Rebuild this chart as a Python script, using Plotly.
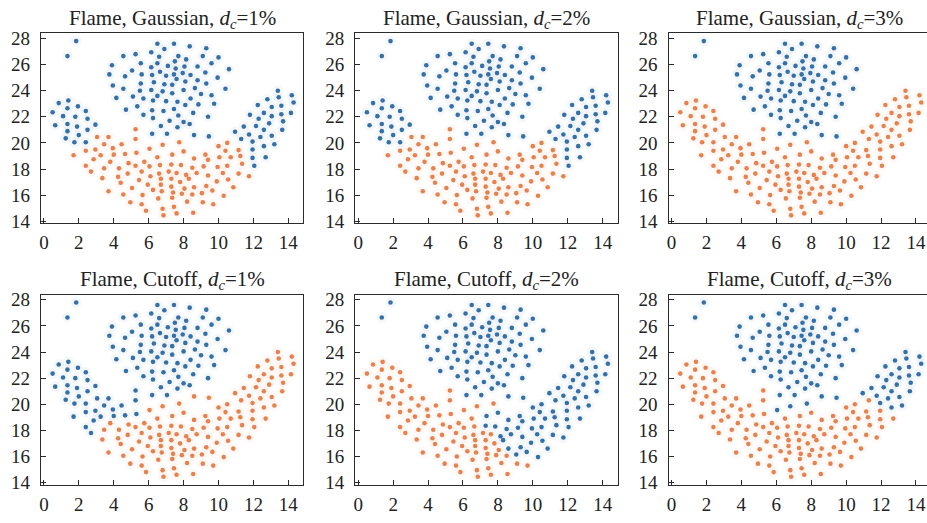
import plotly.graph_objects as go

# ---------------- data (Flame dataset) ----------------
outlier_x = [1.85, 1.35]
outlier_y = [27.8, 26.65]

head_x = [6.5, 7.45, 8.35, 9.3, 6.9, 6.15, 5.25, 4.55, 6.6, 7.7, 9.1, 10.0, 8.15, 7.5, 6.5, 5.55, 9.6,
          3.9, 7.1, 6.15, 8.05, 8.8, 10.6, 7.55, 5.05, 6.65, 9.25, 3.75, 5.6, 7.45, 7.95, 8.4, 6.2,
          7.0, 4.65, 9.95, 7.6, 6.3, 8.1, 8.8, 5.55, 6.9, 7.35, 9.3, 3.95, 4.55, 8.65, 10.4, 5.5,
          6.15, 6.8, 8.0, 7.35, 9.0, 9.6, 6.5, 4.15, 5.1, 5.7, 8.4, 6.25, 7.0, 7.65, 9.75, 8.1,
          8.85, 5.35, 7.45, 4.7, 6.2, 6.85, 8.55, 5.7, 7.7, 9.4, 6.25, 7.2, 8.0, 8.35, 6.7, 7.65,
          6.2, 7.05, 8.6, 9.45]
head_y = [27.6, 27.6, 27.4, 27.25, 27.2, 26.95, 26.8, 26.65, 26.6, 26.65, 26.65, 26.55, 26.4, 26.25,
          26.1, 26.1, 26.1, 25.95, 25.9, 25.8, 25.85, 25.85, 25.65, 25.7, 25.55, 25.45, 25.4, 25.25,
          25.25, 25.25, 25.35, 25.2, 25.2, 25.15, 25.1, 25.0, 24.9, 24.65, 24.7, 24.8, 24.55, 24.5,
          24.45, 24.55, 24.4, 24.15, 24.2, 24.15, 24.0, 24.05, 23.95, 24.05, 23.8, 23.75, 23.65, 23.6,
          23.45, 23.55, 23.4, 23.4, 23.25, 23.2, 23.15, 23.0, 22.9, 22.95, 22.8, 22.6, 22.55, 22.5,
          22.45, 22.3, 22.15, 22.1, 22.0, 21.9, 21.7, 21.6, 21.45, 21.3, 21.2, 20.7, 20.7, 20.6, 20.5]

left_x = [1.4, 0.85, 0.5, 0.65, 1.1, 1.35, 1.95, 2.4, 1.8, 2.5, 2.95, 1.9, 1.35, 1.35, 1.25, 1.75,
          2.0, 2.5, 2.4]
left_y = [23.25, 23.05, 22.35, 21.35, 22.05, 22.65, 22.8, 22.45, 22.0, 21.85, 21.4, 21.25, 21.45,
          20.9, 20.35, 20.05, 20.6, 21.0, 20.05]

lower_x = [1.7, 3.05, 3.7, 3.45, 2.95, 2.4, 2.4, 2.85, 3.25, 3.95, 2.7, 3.45, 3.8, 4.0, 4.45, 4.65,
           4.85, 4.3, 3.35, 3.7, 4.4, 4.25, 4.8, 5.25, 5.75, 5.3, 6.05, 6.5, 6.05, 5.6, 5.45, 5.05,
           4.55, 4.95, 5.85, 5.6, 5.65, 5.95, 6.25, 6.1, 6.6, 6.65, 7.3, 7.85, 7.15, 7.6, 6.7, 7.3,
           6.7, 7.3, 6.75, 7.4, 6.55, 7.35, 6.8, 7.45, 6.85, 7.6, 8.55, 8.2, 7.9, 8.05, 7.8, 8.3,
           8.6, 8.5, 9.1, 9.05, 9.3, 9.65, 9.7,
           5.25, 5.25, 6.8, 7.75, 7.35, 8.0, 8.6, 9.25, 9.4, 8.5, 9.15, 8.15, 8.75, 9.4,
           10.5, 10.0, 10.4, 11.15, 10.05, 10.7, 11.25, 9.95, 10.5, 11.35, 10.25, 11.15, 11.75,
           9.9, 10.55, 10.85, 10.3]
lower_y = [19.05, 20.45, 20.45, 19.9, 19.5, 19.4, 18.25, 18.75, 19.05, 19.6, 17.8, 18.05, 18.55,
           19.1, 19.9, 19.15, 18.45, 18.05, 17.3, 16.3, 16.95, 17.4, 17.65, 18.25, 18.55, 19.25,
           19.55, 18.9, 18.2, 17.8, 17.15, 16.55, 16.05, 15.45, 14.8, 15.3, 16.0, 16.8, 16.4, 17.45,
           17.65, 18.3, 18.35, 18.3, 17.8, 17.7, 17.25, 17.25, 16.8, 16.65, 16.3, 16.2, 15.75, 15.8,
           14.95, 15.1, 14.45, 14.6, 14.65, 15.5, 16.1, 16.5, 17.0, 17.25, 16.6, 16.05, 15.45, 16.15,
           16.7, 16.35, 15.3,
           21.05, 20.3, 19.85, 20.05, 19.1, 19.35, 18.8, 19.1, 18.7, 18.1, 18.2, 17.55, 17.7, 17.5,
           20.0, 19.75, 19.4, 19.45, 18.9, 18.9, 19.0, 18.15, 18.25, 18.4, 17.7, 17.65, 17.45,
           17.05, 17.2, 16.6, 15.95]

right_x = [13.4, 14.2, 14.3, 13.45, 12.8, 12.25, 13.6, 13.05, 12.6, 13.6, 14.15, 11.8, 12.3, 13.05,
           13.7, 12.9, 11.45, 12.15, 12.6, 13.65, 10.95, 11.75, 13.05, 11.3, 12.4, 11.95, 13.2,
           12.6, 11.95, 11.95, 12.7, 12.05]
right_y = [24.0, 23.65, 23.1, 23.5, 23.35, 22.9, 22.85, 22.75, 22.3, 22.2, 22.3, 22.15, 21.85, 22.05,
           21.65, 21.5, 21.25, 21.3, 21.0, 21.0, 20.85, 20.65, 20.55, 20.3, 20.45, 20.1, 19.9, 19.75,
           19.5, 18.85, 18.9, 18.25]

panel_kernels = ["Gaussian", "Gaussian", "Gaussian", "Cutoff", "Cutoff", "Cutoff"]
panel_dc = ["1%", "2%", "3%", "1%", "2%", "3%"]

# cluster labels per panel as (label, run length) over the point order
# outliers(2) + head(85) + left arm(19) + lower(102) + right arm(32); 1 = blue, 0 = orange
label_runs = [
    [(1, 106), (0, 102), (1, 32)],
    [(1, 106), (0, 102), (1, 32)],
    [(1, 87), (0, 153)],
    [(1, 85), (0, 2), (1, 19),
     (1, 11), (0, 2), (1, 3), (0, 9), (1, 1), (0, 45), (1, 2), (0, 29),
     (0, 32)],
    [(1, 87), (0, 19),
     (0, 42), (1, 2), (0, 19), (1, 2), (0, 2), (1, 3), (0, 1), (0, 4), (1, 27),
     (1, 32)],
    [(1, 87), (0, 19),
     (0, 26), (1, 1), (0, 46), (1, 2), (0, 27),
     (1, 23), (0, 1), (1, 4), (0, 4)],
]

x_ticks = [0, 2, 4, 6, 8, 10, 12, 14]
y_ticks = [14, 16, 18, 20, 22, 24, 26, 28]

# ---------------- figure ----------------
X = outlier_x + head_x + left_x + lower_x + right_x
Y = outlier_y + head_y + left_y + lower_y + right_y

BLUE = "#3570a8"
ORANGE = "#e7824f"
W, H = 927, 523
col_px = [(39, 302), (354, 617), (668, 931)]
row_px = [(29, 224), (297, 492)]
x_lo, x_hi = -0.17, 14.86
y_lo, y_hi = 13.83, 28.4
FONT = "Liberation Serif, Times New Roman, serif"

fig = go.Figure()
layout = dict(width=W, height=H, margin=dict(l=0, r=0, t=0, b=0),
              paper_bgcolor="white", plot_bgcolor="white", showlegend=False,
              annotations=[])

for i in range(6):
    r, c = divmod(i, 3)
    labs = []
    for lab, n in label_runs[i]:
        labs += [lab] * n
    n = i + 1
    xa = "x" if n == 1 else f"x{n}"
    ya = "y" if n == 1 else f"y{n}"
    bx = [X[k] for k in range(len(X)) if labs[k] == 1]
    by = [Y[k] for k in range(len(X)) if labs[k] == 1]
    ox = [X[k] for k in range(len(X)) if labs[k] == 0]
    oy = [Y[k] for k in range(len(X)) if labs[k] == 0]
    for px, py, col in ((bx, by, BLUE), (ox, oy, ORANGE)):
        fig.add_trace(go.Scatter(x=px, y=py, mode="markers", xaxis=xa, yaxis=ya,
                                 marker=dict(size=11, color=col, opacity=0.05, line=dict(width=0)),
                                 hoverinfo="skip"))
    for px, py, col in ((bx, by, BLUE), (ox, oy, ORANGE)):
        fig.add_trace(go.Scatter(x=px, y=py, mode="markers", xaxis=xa, yaxis=ya,
                                 marker=dict(size=4.6, color=col, line=dict(width=0))))

    x0, x1 = col_px[c]
    y0, y1 = row_px[r]
    clipped = x1 > W
    px_per_unit = (x1 - x0) / (x_hi - x_lo)
    xr_hi = x_lo + (min(x1, W) - x0) / px_per_unit
    dom_x = [x0 / W, min(x1, W) / W]
    dom_y = [1 - y1 / H, 1 - y0 / H]
    axis_common = dict(showgrid=False, zeroline=False, showline=True, linecolor="#2b2b2b",
                       linewidth=1.3, ticks="inside", ticklen=5, tickwidth=1.2, tickcolor="#2b2b2b",
                       tickfont=dict(family=FONT, size=19, color="#222"))
    layout["xaxis" if n == 1 else f"xaxis{n}"] = dict(
        axis_common, domain=dom_x, range=[x_lo, xr_hi], anchor=ya, mirror=True,
        ticklabelstandoff=2, tickvals=x_ticks, ticktext=[str(t) for t in x_ticks])
    layout["yaxis" if n == 1 else f"yaxis{n}"] = dict(
        axis_common, domain=dom_y, range=[y_lo, y_hi], anchor=xa, mirror=not clipped,
        ticklabelstandoff=6, tickvals=y_ticks, ticktext=[str(t) for t in y_ticks])
    layout["annotations"].append(dict(
        text=f"Flame, {panel_kernels[i]}, <i>d<sub>c</sub></i>={panel_dc[i]}",
        x=(x0 + x1) / 2 / W, y=1 - (y0 - 15) / H, xref="paper", yref="paper",
        xanchor="center", yanchor="middle", showarrow=False,
        font=dict(family=FONT, size=21, color="#222")))

fig.update_layout(**layout)
fig.write_html("out.html", config={"displayModeBar": False},
               post_script="document.body.style.margin='0';document.body.style.overflow='hidden';")
